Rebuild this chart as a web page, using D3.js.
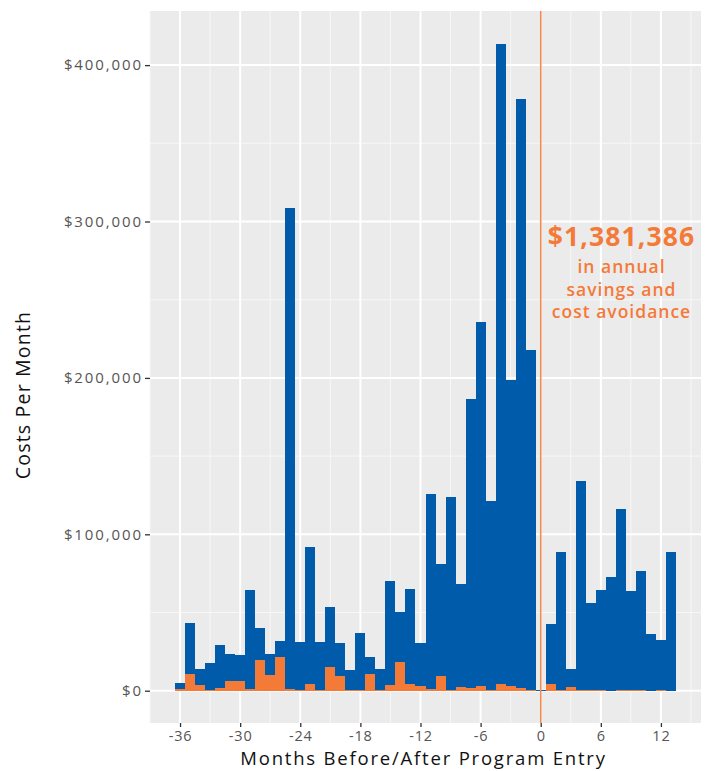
<!DOCTYPE html>
<html>
<head>
<meta charset="utf-8">
<script src="https://cdn.jsdelivr.net/npm/d3@7"></script>
<style>
html,body{margin:0;padding:0;background:#fff;}
svg{display:block;}
</style>
</head>
<body>
<svg id="chart" width="710" height="771"></svg>
<script>
// ---- data ----
const months = [-36,-35,-34,-33,-32,-31,-30,-29,-28,-27,-26,-25,-24,-23,-22,-21,-20,-19,-18,-17,-16,-15,-14,-13,-12,-11,-10,-9,-8,-7,-6,-5,-4,-3,-2,-1,0,1,2,3,4,5,6,7,8,9,10,11,12,13];
const totalCosts = [5100,43300,13900,17700,29200,23500,22800,64400,40100,23500,31800,308500,31100,91900,31100,53500,30500,13200,36900,21500,13900,70100,50300,65000,30500,125800,81000,123900,68200,186500,235700,121300,413300,198700,378300,217800,600,42600,88700,13900,134100,56100,64400,72700,116200,63700,76500,36300,32400,88700];
const programCosts = [1000,10900,3600,400,1900,6200,6200,1000,19600,10000,21500,1000,200,4300,500,15100,9400,500,500,10700,200,3600,18300,4300,3000,1000,9400,500,2400,1700,3000,300,4300,3000,1700,500,0,4300,500,2400,500,300,200,0,200,500,200,0,200,0];
const xTicks = [-36,-30,-24,-18,-12,-6,0,6,12];
const xMinor = [-39,-33,-27,-21,-15,-9,-3,3,9,15];
const yTicks = [0,100000,200000,300000,400000];
const yMinor = [50000,150000,250000,350000];
const annotation = ["$1,381,386","in annual","savings and","cost avoidance"];

// ---- layout ----
const svg = d3.select("#chart");
const P = {left:150, right:701, top:11, bottom:723};
const x = d3.scaleLinear().domain([-39,16]).range([P.left,P.right]);
const y = d3.scaleLinear().domain([-20650,434600]).range([P.bottom,P.top]);

const BLUE = "#005baa", ORANGE = "#f47a38", VLINE = "#f4894f";
const font = "'Open Sans', 'DejaVu Sans', sans-serif";

// panel background
svg.append("rect").attr("x",P.left).attr("y",P.top)
  .attr("width",P.right-P.left).attr("height",P.bottom-P.top).attr("fill","#ebebeb");

const grid = svg.append("g");
grid.selectAll(".ymin").data(yMinor).enter().append("line")
  .attr("x1",P.left).attr("x2",P.right).attr("y1",d=>y(d)).attr("y2",d=>y(d))
  .attr("stroke","#f7f7f7").attr("stroke-width",1);
grid.selectAll(".xmin").data(xMinor).enter().append("line")
  .attr("y1",P.top).attr("y2",P.bottom).attr("x1",d=>x(d)).attr("x2",d=>x(d))
  .attr("stroke","#f7f7f7").attr("stroke-width",1);
grid.selectAll(".ymaj").data(yTicks).enter().append("line")
  .attr("x1",P.left).attr("x2",P.right).attr("y1",d=>y(d)).attr("y2",d=>y(d))
  .attr("stroke","#ffffff").attr("stroke-width",2);
grid.selectAll(".xmaj").data(xTicks).enter().append("line")
  .attr("y1",P.top).attr("y2",P.bottom).attr("x1",d=>x(d)).attr("x2",d=>x(d))
  .attr("stroke","#ffffff").attr("stroke-width",2);

// bars
const bx0 = m => Math.round(x(m-0.5));
const bw = m => Math.round(x(m+0.5)) - Math.round(x(m-0.5));
const blue = months.map((m,i)=>({m, v:totalCosts[i]}));
const orange = months.map((m,i)=>({m, v:programCosts[i]}));
svg.append("g").attr("shape-rendering","crispEdges").selectAll("rect").data(blue).enter().append("rect")
  .attr("x",d=>bx0(d.m)).attr("width",d=>bw(d.m))
  .attr("y",d=>y(d.v)).attr("height",d=>Math.max(1,y(0)-y(d.v)))
  .attr("fill",BLUE);
svg.append("g").attr("shape-rendering","crispEdges").selectAll("rect").data(orange.filter(d=>d.v>0)).enter().append("rect")
  .attr("x",d=>bx0(d.m)).attr("width",d=>bw(d.m))
  .attr("y",d=>y(d.v)).attr("height",d=>Math.max(1,y(0)-y(d.v)))
  .attr("fill",ORANGE);

// vertical line at program entry
svg.append("line").attr("x1",x(0)).attr("x2",x(0)).attr("y1",P.top).attr("y2",P.bottom)
  .attr("stroke",VLINE).attr("stroke-width",1.6);

// axes
const xAxis = d3.axisBottom(x).tickValues(xTicks).tickSize(4).tickPadding(4)
  .tickFormat(d=>d<0 ? "-"+Math.abs(d) : String(d));
const gx = svg.append("g").attr("transform",`translate(0,${P.bottom})`).call(xAxis);
gx.select(".domain").remove();
gx.selectAll(".tick line").attr("stroke","#333").attr("stroke-width",1.3);
gx.selectAll(".tick text").attr("fill","#555").style("font-family",font).style("font-size","14.5px")
  .style("letter-spacing","0.8px");

const yAxis = d3.axisLeft(y).tickValues(yTicks).tickSize(5).tickPadding(2)
  .tickFormat(d=>"$"+d3.format(",")(d));
const gy = svg.append("g").attr("transform",`translate(${P.left},0)`).call(yAxis);
gy.select(".domain").remove();
gy.selectAll(".tick line").attr("stroke","#333").attr("stroke-width",1.3);
gy.selectAll(".tick text").attr("fill","#555").style("font-family",font).style("font-size","15px")
  .style("letter-spacing","1.9px");

// axis titles
svg.append("text").attr("x",(P.left+P.right)/2-2).attr("y",765)
  .attr("text-anchor","middle").attr("fill","#111")
  .style("font-family",font).style("font-size","18.5px").style("letter-spacing","1.8px")
  .text("Months Before/After Program Entry");
svg.append("text").attr("transform","translate(30,395) rotate(-90)")
  .attr("text-anchor","middle").attr("fill","#111")
  .style("font-family",font).style("font-size","19.5px").style("letter-spacing","1.2px")
  .text("Costs Per Month");

// annotation
const ax = 621.5;
svg.append("text").attr("x",ax).attr("y",246).attr("text-anchor","middle")
  .attr("fill",ORANGE).style("font-family",font).style("font-size","26.5px").style("font-weight","700")
  .style("letter-spacing","1.1px")
  .text(annotation[0]);
[annotation[1],annotation[2],annotation[3]].forEach((t,i)=>{
  svg.append("text").attr("x",ax).attr("y",273+i*22.5).attr("text-anchor","middle")
    .attr("fill",ORANGE).style("font-family",font).style("font-size","17.5px").style("font-weight","600")
    .style("letter-spacing","1px")
    .text(t);
});
</script>
</body>
</html>
